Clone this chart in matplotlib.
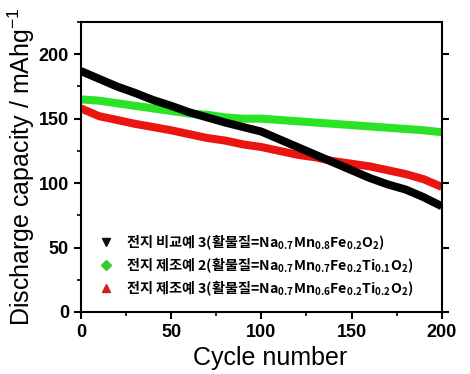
import matplotlib
matplotlib.use("Agg")
import matplotlib.pyplot as plt
from matplotlib.ticker import MultipleLocator

plt.rcParams['font.family'] = ['Liberation Sans', 'Noto Sans CJK KR', 'DejaVu Sans']
plt.rcParams['mathtext.default'] = 'regular'

cycles = [0, 10, 20, 30, 40, 50, 60, 70, 80, 90, 100,
          110, 120, 130, 140, 150, 160, 170, 180, 190, 200]
cap_comp3 = [187, 181, 175, 170, 164.5, 160, 155, 151, 147, 143.5, 140,
             134, 128, 122, 116, 110, 104, 99, 95, 89, 82]
cap_ex2 = [165, 164, 162, 160, 158, 156, 154, 153, 151, 150, 150,
           149, 148, 147, 146, 145, 144, 143, 142, 141, 139.5]
cap_ex3 = [158, 152, 149, 146, 143.5, 141, 138, 135, 133, 130, 128,
           125, 122, 120, 117, 115, 113, 110, 107, 103, 97]

labels = ['전지 비교예 3(활물질=Na$_{0.7}$Mn$_{0.8}$Fe$_{0.2}$O$_2$)',
          '전지 제조예 2(활물질=Na$_{0.7}$Mn$_{0.7}$Fe$_{0.2}$Ti$_{0.1}$O$_2$)',
          '전지 제조예 3(활물질=Na$_{0.7}$Mn$_{0.6}$Fe$_{0.2}$Ti$_{0.2}$O$_2$)']
line_colors = ['#000000', '#2ae326', '#ea1410']
marker_colors = ['#111111', '#33cc33', '#cc2222']
markers = ['v', 'D', '^']

fig = plt.figure(figsize=(4.7, 3.74), dpi=100)
ax = fig.add_axes([0.172, 0.166, 0.768, 0.775])

series = [cap_comp3, cap_ex2, cap_ex3]
# draw in order so the black sits on top of the red where they cross
for vals, lc in zip([cap_ex2, cap_ex3, cap_comp3], [line_colors[1], line_colors[2], line_colors[0]]):
    ax.plot(cycles, vals, color=lc, lw=5.8, solid_capstyle='butt')

handles = []
for vals, mc, m in zip(series, marker_colors, markers):
    h, = ax.plot(cycles[:1], vals[:1], linestyle='none', marker=m, color=mc,
                 markersize=5.5, visible=False)
    handles.append(h)

leg = ax.legend(handles, labels, loc='lower left', bbox_to_anchor=(0.015, 0.005),
                frameon=False, handlelength=1.0, handletextpad=0.9, labelspacing=0.22,
                prop={'family': 'Noto Sans CJK KR', 'size': 10.2, 'weight': 'bold'})
for lh in leg.legend_handles:
    lh.set_visible(True)

ax.set_xlim(0, 200)
ax.set_ylim(0, 225)
ax.xaxis.set_major_locator(MultipleLocator(50))
ax.xaxis.set_minor_locator(MultipleLocator(25))
ax.yaxis.set_major_locator(MultipleLocator(50))
ax.yaxis.set_minor_locator(MultipleLocator(25))
ax.tick_params(which='major', direction='out', length=5, width=1.5, labelsize=13)
ax.tick_params(which='minor', direction='out', length=3, width=1.2)
ax.tick_params(axis='y', which='major', right=True)
for lab in ax.get_xticklabels() + ax.get_yticklabels():
    lab.set_fontweight('bold')
for sp in ax.spines.values():
    sp.set_linewidth(1.5)

ax.set_xlabel('Cycle number', fontsize=18, labelpad=4, x=0.525)
ax.set_ylabel('Discharge capacity / mAhg$^{-1}$', fontsize=18, labelpad=1)

fig.savefig('out.png', dpi=100)
